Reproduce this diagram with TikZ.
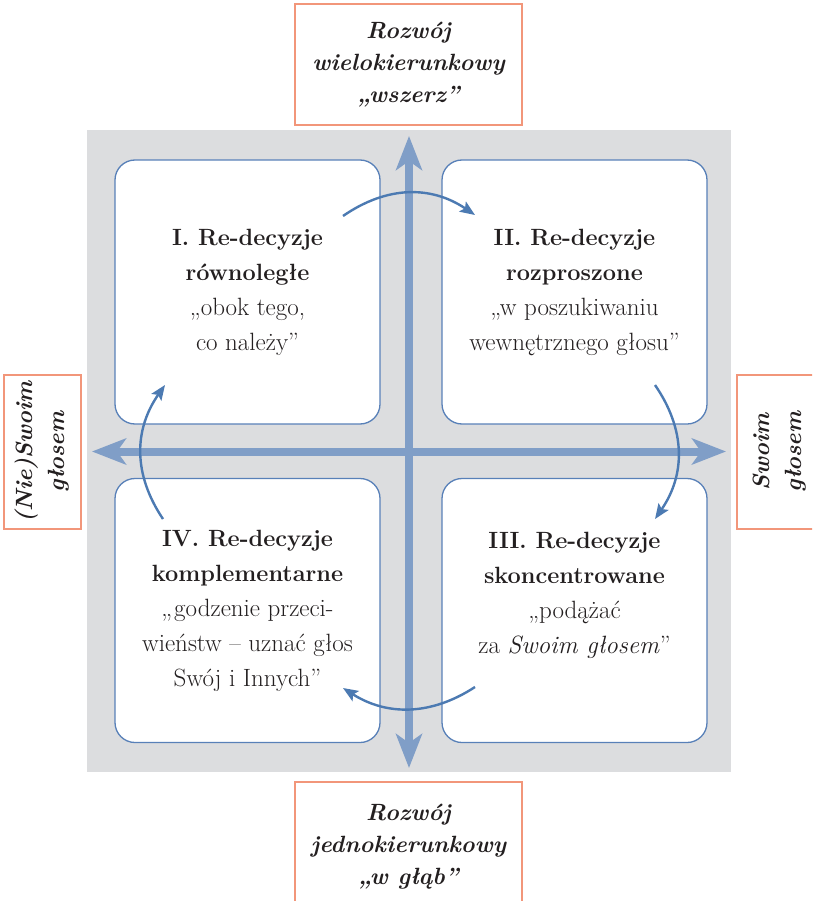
\documentclass[tikz,border=0pt]{standalone}
\usepackage{fontspec}
\usetikzlibrary{arrows.meta}
\definecolor{bggray}{RGB}{220,221,223}
\definecolor{boxblue}{RGB}{88,128,184}
\definecolor{axisblue}{RGB}{128,158,199}
\definecolor{curveblue}{RGB}{76,122,178}
\definecolor{labelorange}{RGB}{242,150,122}
\definecolor{inkdark}{RGB}{35,31,32}
\newcommand\qhead[1]{{\fontsize{23.5}{35}\selectfont\bfseries #1}}
\begin{document}
\begin{tikzpicture}[x=1pt,y=-1pt,
  quad/.style={draw=boxblue, line width=1.3pt, fill=white, rounded corners=20pt,
    minimum width=265pt, minimum height=264pt, inner sep=0pt, align=center,
    text=inkdark, font=\fontsize{25}{35}\selectfont},
  lab/.style={draw=labelorange, line width=1.2pt, fill=white, align=center,
    inner sep=0pt, text=inkdark, font=\fontsize{23.5}{32}\selectfont\bfseries\itshape},
  axis/.style={draw=axisblue, line width=8pt,
    {Stealth[length=34pt,width=26pt,inset=9pt]}-{Stealth[length=34pt,width=26pt,inset=9pt]}},
  cyc/.style={draw=curveblue, line width=2.4pt,
    -{Stealth[length=15pt,width=12pt,inset=3pt]}}]
\useasboundingbox (0,0) rectangle (812,901);
\clip (0,0) rectangle (812,901);
% background
\node[fill=bggray, minimum width=644pt, minimum height=642pt, inner sep=0pt] (bg) at (409,451) {};
% labels
\node[lab, minimum width=227pt, minimum height=121pt] (top) at (408.5,64.5)
  {Rozwój\\wielokierunkowy\\„wszerz”};
\node[lab, minimum width=227pt, minimum height=130pt] (bottom) at (408.5,847)
  {Rozwój\\jednokierunkowy\\„w głąb”};
\node[lab, rotate=90, minimum width=154pt, minimum height=77pt] (left) at (42.5,452)
  {(Nie)Swoim\\głosem};
\node[lab, rotate=90, minimum width=154pt, minimum height=86pt] (right) at (780,452)
  {Swoim\\głosem};
% quadrants
\node[quad] (q1) at (247.5,292)
  {\qhead{I. Re-decyzje}\\\qhead{równoległe}\\„obok tego,\\co należy”};
\node[quad] (q2) at (574.5,292)
  {\qhead{II. Re-decyzje}\\\qhead{rozproszone}\\„w poszukiwaniu\\wewnętrznego głosu”};
\node[quad] (q3) at (574.5,610.5)
  {\qhead{III. Re-decyzje}\\\qhead{skoncentrowane}\\„podążać\\za \textit{Swoim głosem}”\\\mbox{}};
\node[quad] (q4) at (247.5,610.5)
  {\qhead{IV. Re-decyzje}\\\qhead{komplementarne}\\„godzenie przeci-\\wieństw – uznać głos\\Swój i Innych”};
% axes
\coordinate (tT) at (409,136);
\coordinate (tB) at (409,768);
\coordinate (tL) at (92,451.5);
\coordinate (tR) at (726,451.5);
\draw[axis] (tB) -- (tT);
\draw[axis] (tL) -- (tR);
% cycle arrows
\coordinate (a1s) at (343,216); \coordinate (a1e) at (475,215);
\coordinate (a2s) at (655,385); \coordinate (a2e) at (655,519);
\coordinate (a3s) at (475,687); \coordinate (a3e) at (343,688);
\coordinate (a4s) at (163,519); \coordinate (a4e) at (165,385);
\draw[cyc] (a1s) .. controls (387,185.7) and (431,185.3) .. (a1e);
\draw[cyc] (a2s) .. controls (685.7,429.7) and (685.7,474.3) .. (a2e);
\draw[cyc] (a3s) .. controls (431,715.7) and (387,716) .. (a3e);
\draw[cyc] (a4s) .. controls (133,474.3) and (133.7,429.7) .. (a4e);
\end{tikzpicture}
\end{document}
